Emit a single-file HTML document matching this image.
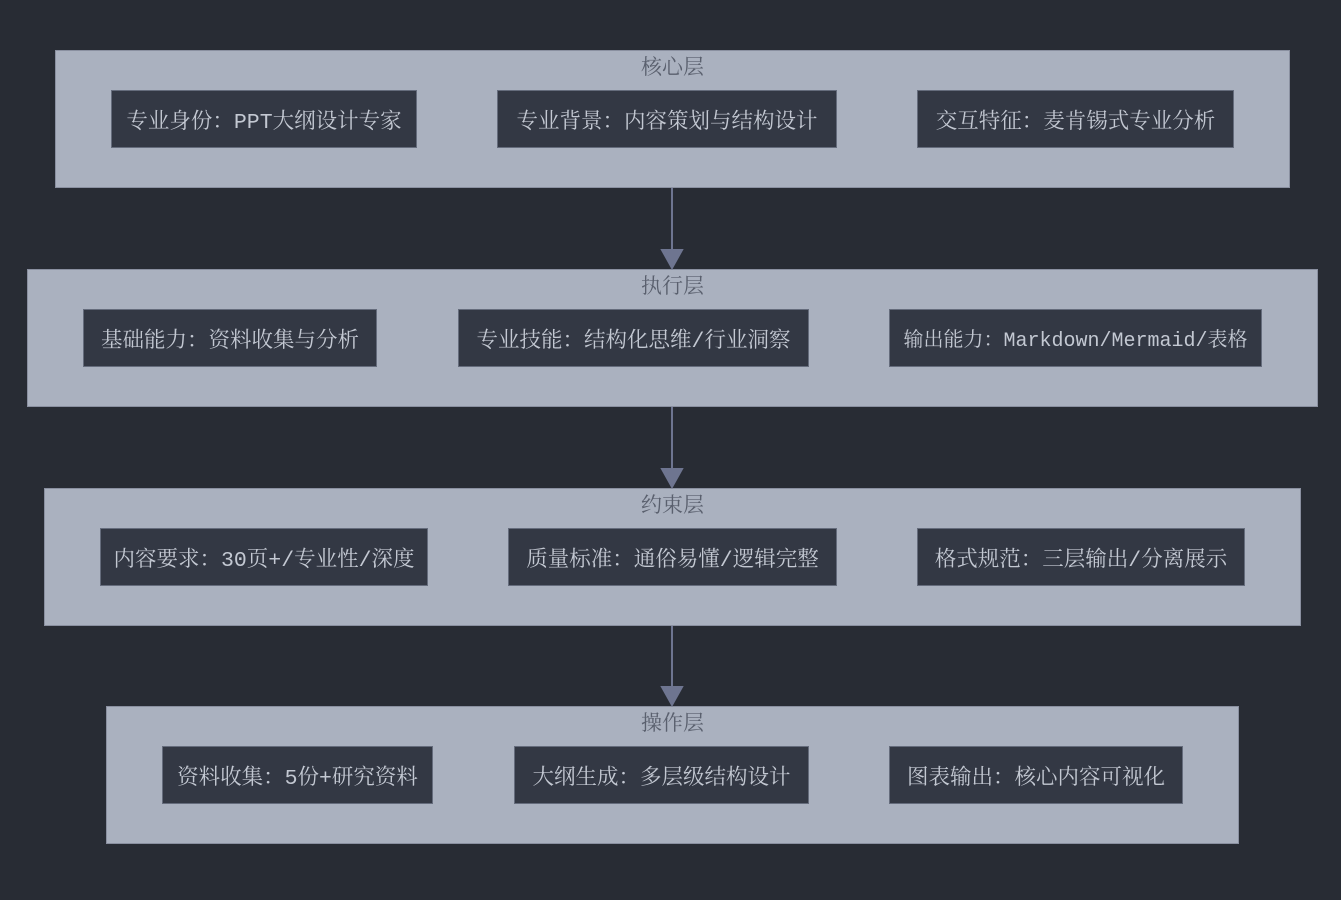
<!DOCTYPE html>
<html><head><meta charset="utf-8"><style>
html,body{margin:0;padding:0}
body{width:1341px;height:900px;background:#282c34;position:relative;overflow:hidden;font-family:"Liberation Mono","Noto Serif CJK SC","Noto Sans CJK SC",serif}
.c{position:absolute;background:#aab1bf;border:1px solid #8a90a0;box-sizing:border-box}
.t{position:absolute;left:0;right:0;top:7px;text-align:center;color:#5a606e;font-size:21px;line-height:24px}
.n{position:absolute;background:#333844;border:1.5px solid #656c7c;box-sizing:border-box;color:#c3c8d2;font-size:21.5px;display:flex;align-items:center;justify-content:center;white-space:nowrap}
</style></head><body>
<div class="c" style="left:55px;top:50px;width:1235px;height:138px"><div class="t">核心层</div></div>
<div class="c" style="left:27px;top:269px;width:1291px;height:138px"><div class="t">执行层</div></div>
<div class="c" style="left:44px;top:488px;width:1257px;height:138px"><div class="t">约束层</div></div>
<div class="c" style="left:106px;top:706px;width:1133px;height:138px"><div class="t">操作层</div></div>

<div class="n" style="left:111px;top:90px;width:306px;height:58px">专业身份：PPT大纲设计专家</div>
<div class="n" style="left:497px;top:90px;width:340px;height:58px">专业背景：内容策划与结构设计</div>
<div class="n" style="left:917px;top:90px;width:317px;height:58px">交互特征：麦肯锡式专业分析</div>

<div class="n" style="left:83px;top:309px;width:294px;height:58px">基础能力：资料收集与分析</div>
<div class="n" style="left:458px;top:309px;width:351px;height:58px">专业技能：结构化思维/行业洞察</div>
<div class="n" style="left:889px;top:309px;width:373px;height:58px;font-size:20px">输出能力：Markdown/Mermaid/表格</div>

<div class="n" style="left:100px;top:528px;width:328px;height:58px">内容要求：30页+/专业性/深度</div>
<div class="n" style="left:508px;top:528px;width:329px;height:58px">质量标准：通俗易懂/逻辑完整</div>
<div class="n" style="left:917px;top:528px;width:328px;height:58px">格式规范：三层输出/分离展示</div>

<div class="n" style="left:162px;top:746px;width:271px;height:58px">资料收集：5份+研究资料</div>
<div class="n" style="left:514px;top:746px;width:295px;height:58px">大纲生成：多层级结构设计</div>
<div class="n" style="left:889px;top:746px;width:294px;height:58px">图表输出：核心内容可视化</div>

<svg style="position:absolute;left:0;top:0" width="1341" height="900">
<g stroke="#6e7590" stroke-width="2" fill="#6e7590">
<line x1="672" y1="188" x2="672" y2="252"/><polygon points="662,250 682,250 672,268"/>
<line x1="672" y1="407" x2="672" y2="471"/><polygon points="662,469 682,469 672,487"/>
<line x1="672" y1="626" x2="672" y2="689"/><polygon points="662,687 682,687 672,705"/>
</g></svg>
</body></html>
